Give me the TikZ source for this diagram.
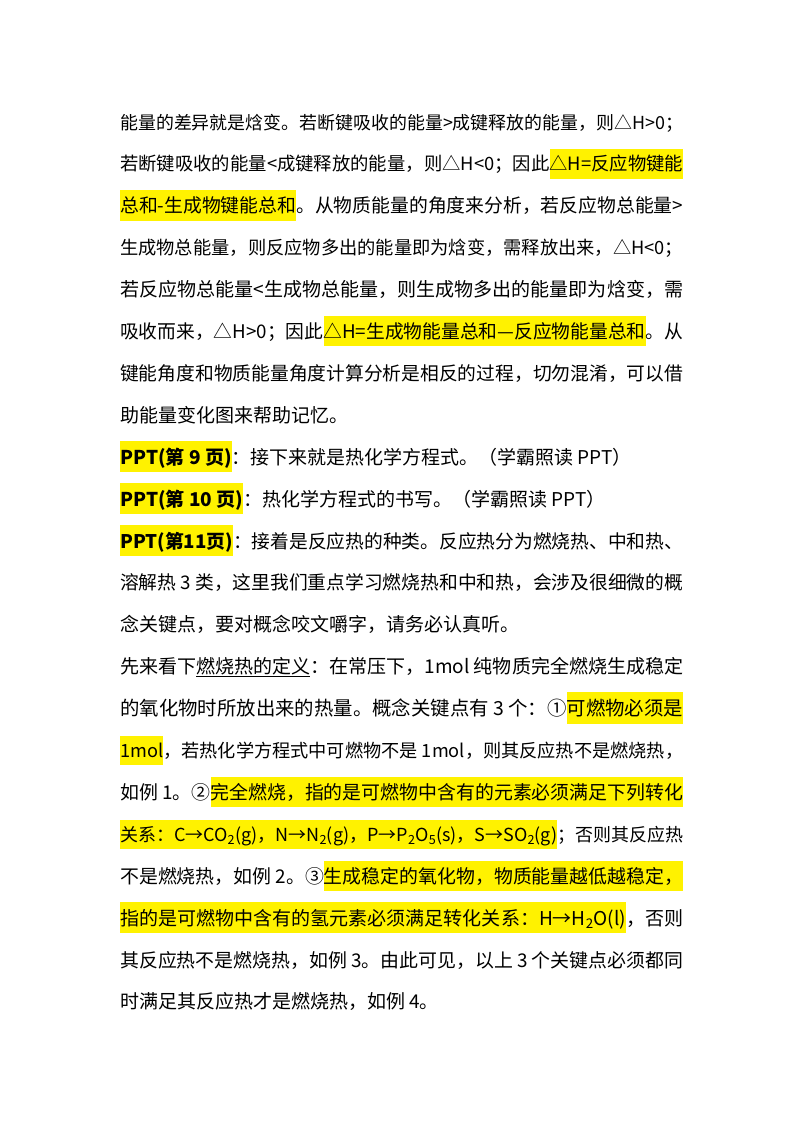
\documentclass[tikz,border=0pt]{standalone}
\usepackage{fontspec}
\setmainfont{Noto Sans CJK SC}
\newcommand{\hl}[1]{{\setlength{\fboxsep}{0pt}\colorbox{yellow}{\rule[-0.42em]{0pt}{1.62em}#1}}}
\newcommand{\sub}[1]{\textsubscript{#1}}
\tikzset{ln/.style={anchor=base west,inner sep=0pt,font=\fontsize{23}{28}\selectfont},
  sln/.style={anchor=base west,inner sep=0pt,font=\fontsize{19}{24}\selectfont}}
\begin{document}
\begin{tikzpicture}[x=1pt,y=1pt]
\useasboundingbox (0,0) rectangle (800,-1132);
\foreach \i/\t in {
0/{能量的差异就是焓变。若断键吸收的能量>成键释放的能量，则△H>0；},
1/{若断键吸收的能量<成键释放的能量，则△H<0；因此\hl{△H=反应物键能}},
2/{\hl{总和-生成物键能总和}。从物质能量的角度来分析，若反应物总能量>},
3/{生成物总能量，则反应物多出的能量即为焓变，需释放出来，△H<0；},
4/{若反应物总能量<生成物总能量，则生成物多出的能量即为焓变，需},
5/{吸收而来，△H>0；因此\hl{△H=生成物能量总和—反应物能量总和}。从},
6/{键能角度和物质能量角度计算分析是相反的过程，切勿混淆，可以借},
10/{\hl{\bfseries PPT(第11页)}：接着是反应热的种类。反应热分为燃烧热、中和热、},
11/{溶解热 3 类，这里我们重点学习燃烧热和中和热，会涉及很细微的概},
13/{先来看下\underline{燃烧热的定义}：在常压下，1mol 纯物质完全燃烧生成稳定},
14/{的氧化物时所放出来的热量。概念关键点有 3 个：①\hl{可燃物必须是}},
15/{\hl{1mol}，若热化学方程式中可燃物不是 1mol，则其反应热不是燃烧热，},
16/{如例 1。②\hl{完全燃烧，指的是可燃物中含有的元素必须满足下列转化}},
17/{\hl{关系：C→CO\sub{2}(g)，N→N\sub{2}(g)，P→P\sub{2}O\sub{5}(s)，S→SO\sub{2}(g)}；否则其反应热},
18/{不是燃烧热，如例 2。③\hl{生成稳定的氧化物，物质能量越低越稳定，}},
19/{\hl{指的是可燃物中含有的氢元素必须满足转化关系：H→H\sub{2}O(l)}，否则},
20/{其反应热不是燃烧热，如例 3。由此可见，以上 3 个关键点必须都同}}
{\node[ln] (l\i) at (120,{-129-41.9*\i}) {\resizebox{563pt}{!}{\t}};}
\foreach \i/\t in {
7/{助能量变化图来帮助记忆。},
8/{\hl{\bfseries PPT(第 9 页)}：接下来就是热化学方程式。（学霸照读 PPT）},
9/{\hl{\bfseries PPT(第 10 页)}：热化学方程式的书写。（学霸照读 PPT）},
12/{念关键点，要对概念咬文嚼字，请务必认真听。},
21/{时满足其反应热才是燃烧热，如例 4。}}
{\node[sln] (s\i) at (120,{-129-41.9*\i}) {\t};}
\end{tikzpicture}
\end{document}
